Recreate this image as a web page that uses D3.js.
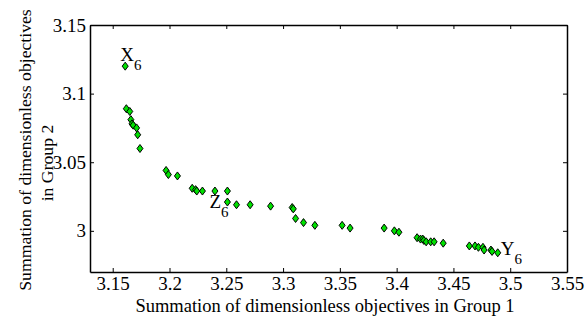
<!DOCTYPE html>
<html>
<head>
<meta charset="utf-8">
<script src="https://cdn.jsdelivr.net/npm/d3@7"></script>
<style>
  body { margin: 0; background: #fff; }
  svg text { font-family: "Liberation Serif", "Times New Roman", Times, serif; }
</style>
</head>
<body>
<div id="chart"></div>
<script>
// group 1 / group 2 sums
const group1 = [3.161, 3.162, 3.165, 3.166, 3.167, 3.168, 3.171, 3.172, 3.174,
  3.197, 3.199, 3.207, 3.220, 3.223, 3.224, 3.229, 3.240, 3.251, 3.251, 3.259,
  3.271, 3.289, 3.308, 3.309, 3.311, 3.318, 3.328, 3.352, 3.359, 3.389, 3.398,
  3.402, 3.418, 3.421, 3.423, 3.424, 3.426, 3.430, 3.433, 3.441, 3.464, 3.469,
  3.472, 3.476, 3.477, 3.483, 3.484, 3.489];
const group2 = [3.120, 3.089, 3.087, 3.081, 3.078, 3.077, 3.075, 3.070, 3.060,
  3.044, 3.041, 3.040, 3.031, 3.030, 3.029, 3.029, 3.029, 3.029, 3.021, 3.019,
  3.019, 3.018, 3.017, 3.016, 3.009, 3.006, 3.004, 3.004, 3.002, 3.002, 3.000,
  2.999, 2.995, 2.994, 2.994, 2.993, 2.992, 2.992, 2.992, 2.991, 2.989, 2.989,
  2.988, 2.988, 2.986, 2.986, 2.985, 2.984];
const xTicks = [3.15, 3.2, 3.25, 3.3, 3.35, 3.4, 3.45, 3.5, 3.55];
const yTicks = [3, 3.05, 3.1, 3.15];
// labelled solutions: index into the arrays above
const markers = [
  {name: "X", sub: "6", idx: 0},
  {name: "Z", sub: "6", idx: 18},
  {name: "Y", sub: "6", idx: 47}
];

const FONT = "'Liberation Serif', 'Times New Roman', Times, serif";
const W = 586, H = 320;
const margin = {top: 25, right: 19, bottom: 48, left: 90};
const width = W - margin.left - margin.right,
      height = H - margin.top - margin.bottom;

const svg = d3.select("#chart").append("svg")
  .attr("width", W).attr("height", H)
  .attr("font-family", FONT);
const g = svg.append("g")
  .attr("transform", "translate(" + margin.left + "," + margin.top + ")");

const x = d3.scaleLinear().domain([3.13, 3.55]).range([0, width]);
const y = d3.scaleLinear().domain([2.97, 3.15]).range([height, 0]);

const fmt = d3.format("~g");

// axes, ticks point inward
g.append("g").attr("transform", "translate(0," + height + ")")
  .call(d3.axisBottom(x).tickValues(xTicks).tickFormat(fmt).tickSizeInner(-4).tickSizeOuter(0).tickPadding(5));
g.append("g")
  .call(d3.axisLeft(y).tickValues(yTicks).tickFormat(fmt).tickSizeInner(-4).tickSizeOuter(0).tickPadding(4));
g.append("g")
  .call(d3.axisTop(x).tickValues(xTicks).tickFormat("").tickSizeInner(-4).tickSizeOuter(0));
g.append("g").attr("transform", "translate(" + width + ",0)")
  .call(d3.axisRight(y).tickValues(yTicks).tickFormat("").tickSizeInner(-4).tickSizeOuter(0));

// d3 puts font-family="sans-serif" on each axis group, replace it
g.selectAll("g").attr("font-family", FONT).attr("font-size", 19);
g.selectAll(".domain").attr("stroke", "#000").attr("stroke-width", 1.5);
g.selectAll(".tick line").attr("stroke", "#000");
g.selectAll(".tick text").attr("fill", "#000");

// points
const pts = group1.map((v, i) => ({x: v, y: group2[i]}));
g.selectAll("path.pt")
  .data(pts)
  .enter()
  .append("path")
    .attr("class", "pt")
    .attr("d", "M0,-4L3,0L0,4L-3,0Z")
    .attr("transform", d => "translate(" + x(d.x) + "," + y(d.y) + ")")
    .attr("fill", "#00e000")
    .attr("stroke", "#000")
    .attr("stroke-width", 1);

// point labels
const lab = g.selectAll("text.lab")
  .data(markers)
  .enter()
  .append("text")
    .attr("class", "lab")
    .attr("x", d => {
      const px = x(group1[d.idx]);
      return d.name == "X" ? px - 5 : d.name == "Z" ? px - 18 : px + 3;
    })
    .attr("y", d => {
      const py = y(group2[d.idx]);
      return d.name == "X" ? py - 5 : d.name == "Z" ? py + 6 : py + 2;
    })
    .style("font-size", "19px");
lab.append("tspan").text(d => d.name);
lab.append("tspan").attr("dy", 9).style("font-size", "15px").text(d => d.sub);

// axis titles
svg.append("text")
  .attr("x", 325)
  .attr("y", 312)
  .attr("text-anchor", "middle")
  .style("font-size", "18.5px")
  .text("Summation of dimensionless objectives in Group 1");

const yl = svg.append("text")
  .attr("transform", "translate(31,150) rotate(-90)")
  .attr("text-anchor", "middle")
  .style("font-size", "17.7px");
yl.append("tspan").attr("x", 0).attr("y", 0).text("Summation of dimensionless objectives");
yl.append("tspan").attr("x", -13).attr("y", 22).text("in Group 2");
</script>
</body>
</html>
